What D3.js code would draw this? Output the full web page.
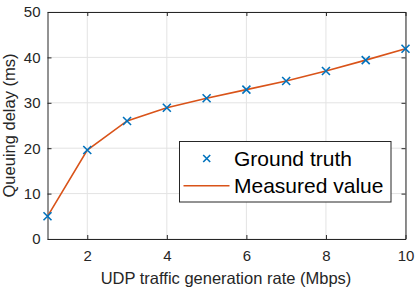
<!DOCTYPE html>
<html>
<head>
<meta charset="utf-8">
<script src="https://cdn.jsdelivr.net/npm/d3@7"></script>
<style>
  body { margin: 0; background: #fff; }
  svg { display: block; font-family: "Liberation Sans", Arial, sans-serif; }
</style>
</head>
<body>
<svg id="chart" width="415" height="290"></svg>
<script>
// data
const rates = [1, 2, 3, 4, 5, 6, 7, 8, 9, 10];
const groundTruth = [5.0, 19.6, 26.0, 28.9, 31.0, 32.9, 34.8, 37.0, 39.4, 41.9];
const measured = [5.0, 19.6, 26.0, 28.9, 31.0, 32.9, 34.8, 37.0, 39.4, 41.9];
const xTicks = [2, 4, 6, 8, 10];
const yTicks = [0, 10, 20, 30, 40, 50];
const legendLabels = ["Ground truth", "Measured value"];

const axisColor = "#262626";
const blue = "#0072BD";
const orange = "#D95319";

const margin = {top: 12, right: 9.5, bottom: 51, left: 47.5};
const width = 415, height = 290;

const svg = d3.select("#chart");

const x = d3.scaleLinear().domain([1, 10]).range([margin.left, width - margin.right]);
const y = d3.scaleLinear().domain([0, 50]).range([height - margin.bottom, margin.top]);

const plot = svg.append("g");

// grid
plot.append("g")
  .selectAll("line")
  .data(xTicks)
  .enter().append("line")
    .attr("x1", d => x(d)).attr("x2", d => x(d))
    .attr("y1", y(0)).attr("y2", y(50))
    .attr("stroke", "#e3e3e3").attr("stroke-width", 1);

plot.append("g")
  .selectAll("line")
  .data(yTicks)
  .enter().append("line")
    .attr("x1", x(1)).attr("x2", x(10))
    .attr("y1", d => y(d)).attr("y2", d => y(d))
    .attr("stroke", "#e3e3e3").attr("stroke-width", 1);

// axes (ticks inside, box on)
function styleAxis(g) {
  g.select(".domain").attr("stroke", axisColor);
  g.selectAll(".tick line").attr("stroke", axisColor);
  g.selectAll(".tick text")
    .attr("fill", axisColor)
    .style("font-size", "15px");
}

svg.append("g")
  .attr("transform", `translate(0,${y(0)})`)
  .call(d3.axisBottom(x).tickValues(xTicks).tickSizeInner(-4).tickSizeOuter(0).tickPadding(11))
  .call(styleAxis);

svg.append("g")
  .attr("transform", `translate(0,${y(50)})`)
  .call(d3.axisTop(x).tickValues(xTicks).tickSizeInner(-4).tickSizeOuter(0).tickFormat(""))
  .call(styleAxis);

svg.append("g")
  .attr("transform", `translate(${x(1)},0)`)
  .call(d3.axisLeft(y).tickValues(yTicks).tickSizeInner(-4).tickSizeOuter(0).tickPadding(7))
  .call(styleAxis);

svg.append("g")
  .attr("transform", `translate(${x(10)},0)`)
  .call(d3.axisRight(y).tickValues(yTicks).tickSizeInner(-4).tickSizeOuter(0).tickFormat(""))
  .call(styleAxis);

// measured line
const line = d3.line()
  .x((d, i) => x(rates[i]))
  .y(d => y(d));

svg.append("path")
  .datum(measured)
  .attr("fill", "none")
  .attr("stroke", orange)
  .attr("stroke-width", 1.6)
  .attr("d", line);

// ground truth markers
const m = 4;
svg.append("g")
  .selectAll("path")
  .data(groundTruth)
  .enter().append("path")
    .attr("d", (d, i) => {
      let cx = x(rates[i]), cy = y(d);
      return `M${cx - m},${cy - m}L${cx + m},${cy + m}M${cx - m},${cy + m}L${cx + m},${cy - m}`;
    })
    .attr("stroke", blue)
    .attr("stroke-width", 1.6)
    .attr("fill", "none");

// axis labels
svg.append("text")
  .attr("x", (x(1) + x(10)) / 2 - 0.5)
  .attr("y", 283.5)
  .attr("text-anchor", "middle")
  .attr("fill", axisColor)
  .style("font-size", "16.5px")
  .text("UDP traffic generation rate (Mbps)");

svg.append("text")
  .attr("transform", `translate(15,${(y(0) + y(50)) / 2}) rotate(-90)`)
  .attr("text-anchor", "middle")
  .attr("fill", axisColor)
  .style("font-size", "16.5px")
  .text("Queuing delay (ms)");

// legend
const legend = svg.append("g");
legend.append("rect")
  .attr("x", 179.5).attr("y", 141.5)
  .attr("width", 211.5).attr("height", 60.5)
  .attr("fill", "#fff")
  .attr("stroke", axisColor)
  .attr("stroke-width", 1);

let lx = 206.7, ly1 = 158.5, ly2 = 185.7, ms = 3.5;
legend.append("path")
  .attr("d", `M${lx - ms},${ly1 - ms}L${lx + ms},${ly1 + ms}M${lx - ms},${ly1 + ms}L${lx + ms},${ly1 - ms}`)
  .attr("stroke", blue).attr("stroke-width", 1.6);

legend.append("line")
  .attr("x1", 183.5).attr("x2", 229.5)
  .attr("y1", ly2).attr("y2", ly2)
  .attr("stroke", orange).attr("stroke-width", 1.6);

legend.selectAll("text")
  .data(legendLabels)
  .enter().append("text")
    .attr("x", 234)
    .attr("y", (d, i) => i == 0 ? 166 : 192.5)
    .attr("fill", "#000")
    .style("font-size", "21px")
    .text(d => d);
</script>
</body>
</html>
